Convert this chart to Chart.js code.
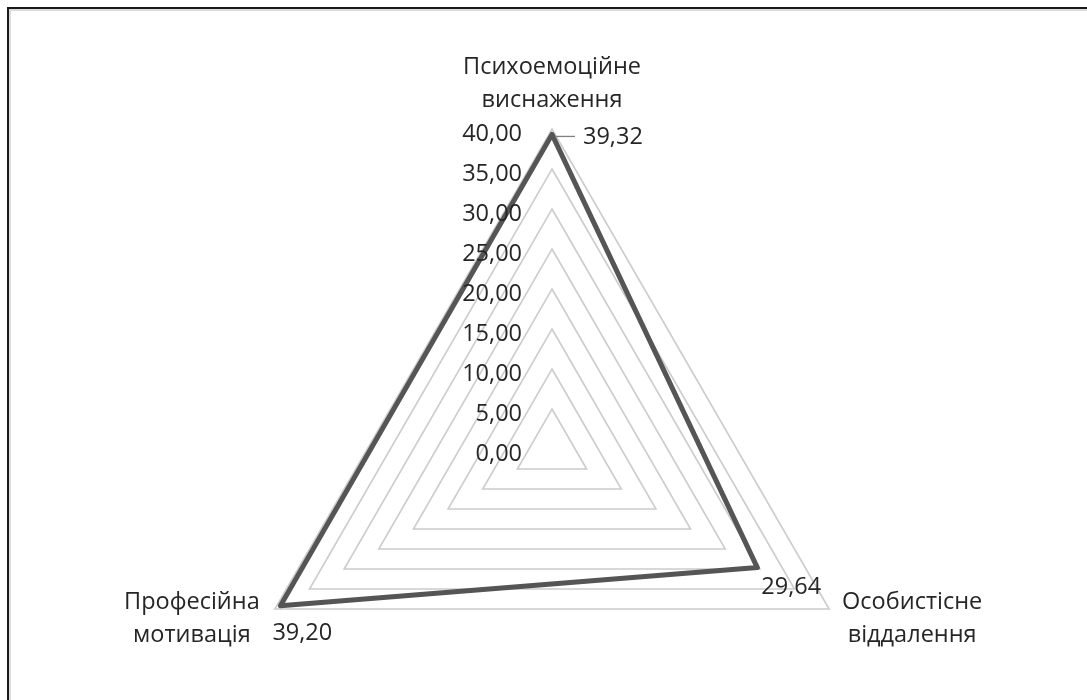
<!DOCTYPE html>
<html>
<head>
<meta charset="utf-8">
<script src="https://cdn.jsdelivr.net/npm/chart.js@4.4.1/dist/chart.umd.min.js"></script>
<style>
  html, body { margin: 0; padding: 0; background: #fff; overflow: hidden; }
  #wrap { position: relative; width: 1087px; height: 700px; overflow: hidden; }
  #frame { position: absolute; left: 7px; top: 7px; width: 1100px; height: 720px;
           border-left: 2px solid #1a1a1a; border-top: 2px solid #1a1a1a;
           box-shadow: inset 2px 2px 0 #dcdcdc; }
  #myChart { position: absolute; left: 0; top: 0; }
</style>
</head>
<body>
<div id="wrap">
  <div id="frame"></div>
  <canvas id="myChart" width="1087" height="900"></canvas>
</div>
<script>
// data
const categories = [
  ['Психоемоційне', 'виснаження'],
  ['Особистісне', 'віддалення'],
  ['Професійна', 'мотивація']
];
const values = [39.32, 29.64, 39.20];
const tickLabels = ['0,00', '5,00', '10,00', '15,00', '20,00', '25,00', '30,00', '35,00', '40,00'];

const FONT = "'Open Sans', 'Noto Sans', sans-serif";
const TEXT = '#262626';

function fmt(v) {
  return v.toFixed(2).replace('.', ',');
}

// labels drawn the way the original spreadsheet placed them
const labelPlugin = {
  id: 'labelPlugin',
  afterDraw(chart) {
    const ctx = chart.ctx;
    const scale = chart.scales.r;
    ctx.save();
    ctx.font = '23.5px ' + FONT;
    ctx.fillStyle = TEXT;

    // tick labels, left of the vertical axis
    ctx.textAlign = 'right';
    ctx.textBaseline = 'middle';
    scale.ticks.forEach(function (t) {
      const d = scale.getDistanceFromCenterForValue(t.value);
      ctx.fillText(t.label, scale.xCenter - 30, scale.yCenter - d + 5);
    });

    // category labels
    ctx.textAlign = 'center';
    for (let i = 0; i < categories.length; i++) {
      const p = scale.getPointPosition(i, scale.drawingArea);
      const lines = categories[i];
      let cx = p.x, cy = p.y;
      if (i === 0) { cy = p.y - 45.5; }
      else if (p.x > scale.xCenter) { cx = p.x + 83; cy = p.y + 10; }
      else { cx = p.x - 83; cy = p.y + 10; }
      const lh = 33;
      for (let j = 0; j < lines.length; j++) {
        ctx.fillText(lines[j], cx, cy + (j - (lines.length - 1) / 2) * lh);
      }
    }

    // value labels
    const meta = chart.getDatasetMeta(0);
    ctx.textAlign = 'left';
    meta.data.forEach(function (pt, i) {
      const txt = fmt(values[i]);
      if (i === 0) {
        ctx.strokeStyle = '#7f7f7f';
        ctx.lineWidth = 1.3;
        ctx.beginPath();
        ctx.moveTo(pt.x + 3, pt.y + 2);
        ctx.lineTo(pt.x + 23, pt.y + 2);
        ctx.stroke();
        ctx.fillText(txt, pt.x + 31, pt.y + 3);
      } else if (pt.x > scale.xCenter) {
        ctx.fillText(txt, pt.x + 4, pt.y + 20);
      } else {
        ctx.fillText(txt, pt.x - 8, pt.y + 28);
      }
    });
    ctx.restore();
  }
};

const config = {
  type: 'radar',
  data: {
    labels: categories,
    datasets: [{
      label: 'Показники',
      data: values,
      borderColor: '#555555',
      borderWidth: 5,
      borderJoinStyle: 'round',
      backgroundColor: 'rgba(0,0,0,0)',
      fill: false,
      pointRadius: 0,
      pointHoverRadius: 0,
      tension: 0
    }]
  },
  options: {
    responsive: false,
    animation: false,
    layout: { padding: { left: 232, right: 215, top: 129, bottom: 131 } },
    plugins: {
      legend: { display: false },
      tooltip: { enabled: false }
    },
    scales: {
      r: {
        min: 0,
        max: 40,
        beginAtZero: true,
        angleLines: { display: false },
        grid: { color: '#cccccc', lineWidth: 1.6 },
        pointLabels: { display: false },
        ticks: {
          display: false,
          stepSize: 5,
          callback: function (v, i) { return tickLabels[i]; }
        }
      }
    }
  },
  plugins: [labelPlugin]
};

const myChart = new Chart(document.getElementById('myChart'), config);
</script>
</body>
</html>
